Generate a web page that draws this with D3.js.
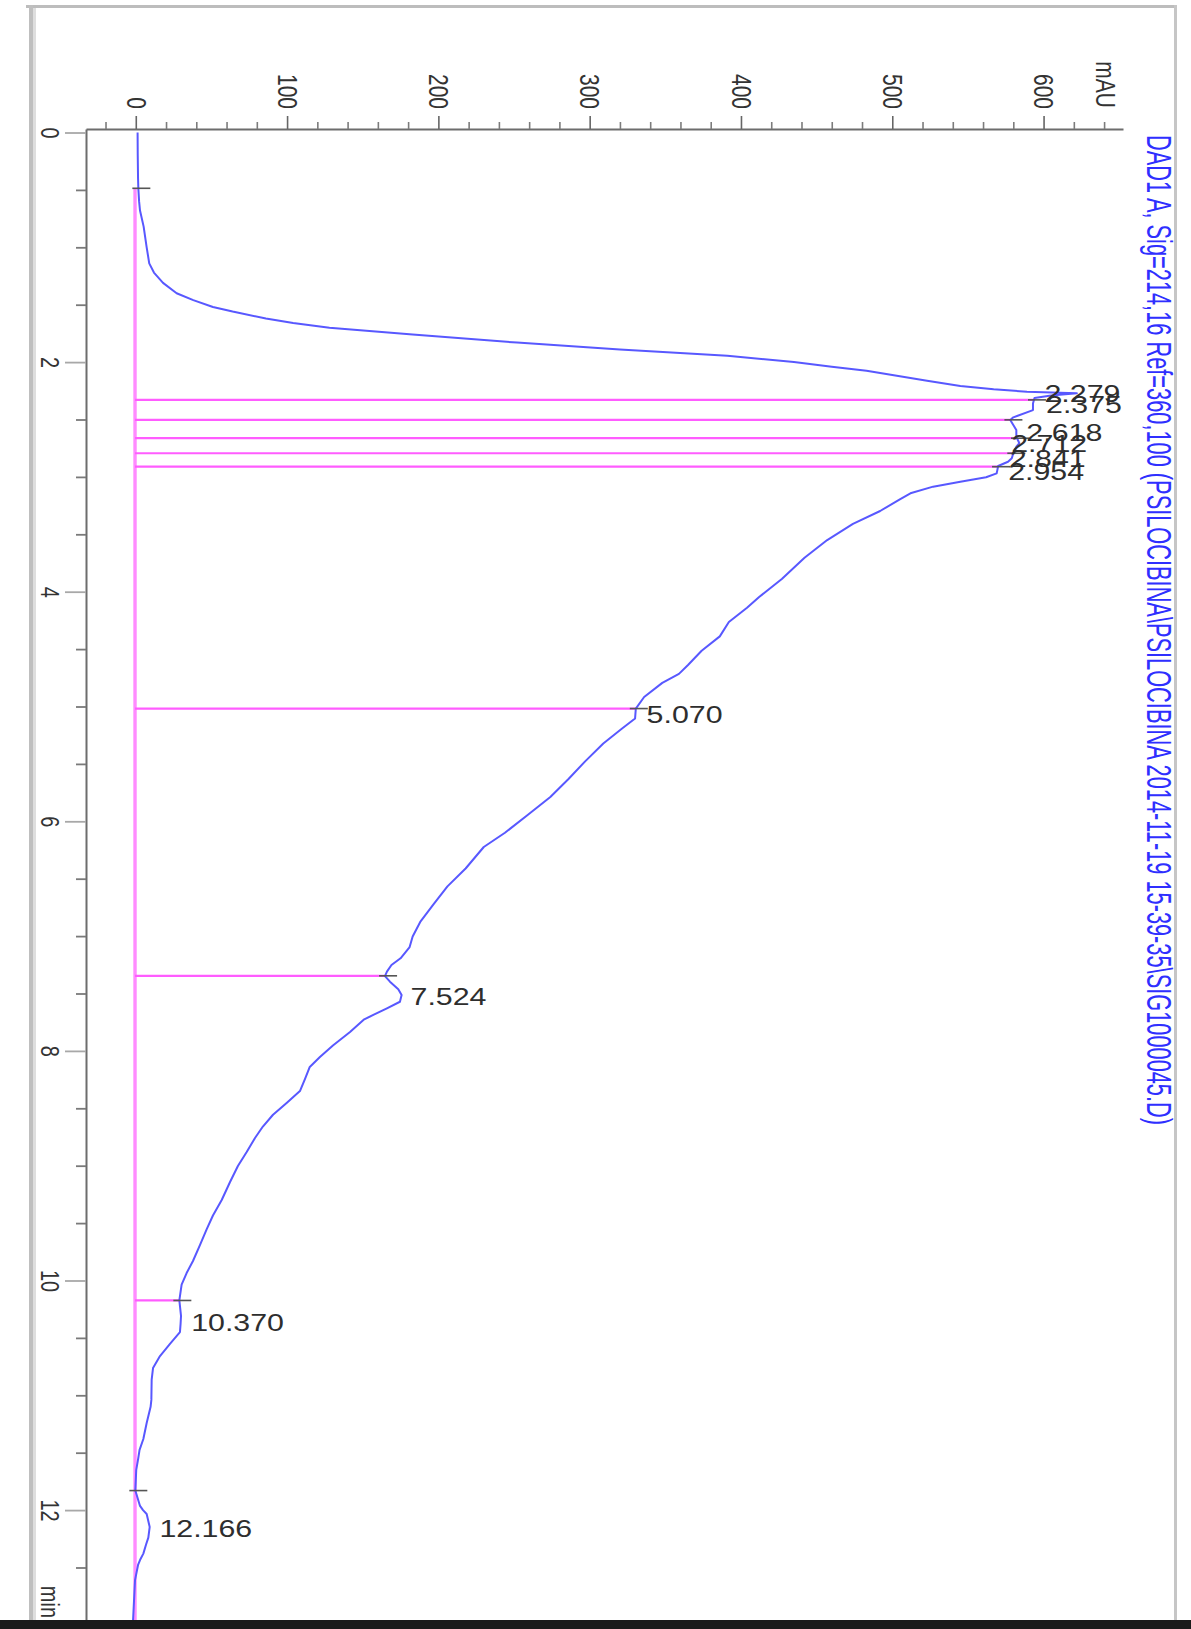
<!DOCTYPE html>
<html>
<head>
<meta charset="utf-8">
<script src="https://cdn.jsdelivr.net/npm/d3@7"></script>
<style>
  html, body { margin: 0; padding: 0; background: #ffffff; }
  svg { display: block; }
  text { font-family: "Liberation Sans", Arial, Helvetica, sans-serif; }
</style>
</head>
<body>
<svg id="chart" width="1191" height="1629"></svg>
<script>
// DAD1 A trace: retention time (min) and absorbance (mAU)
const time = [
  0.00, 0.20, 0.40, 0.49, 0.60, 0.68, 0.82, 1.00, 1.14, 1.22,
  1.31, 1.40, 1.46, 1.52, 1.56, 1.62, 1.66, 1.70, 1.76, 1.83,
  1.89, 1.945, 2.00, 2.04, 2.075, 2.112, 2.162, 2.208, 2.237, 2.258,
  2.266, 2.272, 2.290, 2.313, 2.36, 2.418, 2.481, 2.504, 2.548, 2.592,
  2.65, 2.707, 2.737, 2.766, 2.794, 2.838, 2.868, 2.905, 2.969, 3.003,
  3.042, 3.085, 3.143, 3.195, 3.297, 3.41, 3.55, 3.705, 3.89, 4.046,
  4.14, 4.264, 4.389, 4.514, 4.638, 4.716, 4.794, 4.917, 5.018, 5.105,
  5.196, 5.322, 5.478, 5.632, 5.788, 5.945, 6.10, 6.224, 6.411, 6.567,
  6.72, 6.877, 7.003, 7.095, 7.193, 7.252, 7.31, 7.348, 7.397, 7.463,
  7.513, 7.572, 7.629, 7.687, 7.725, 7.835, 7.953, 8.053, 8.14, 8.245,
  8.35, 8.454, 8.556, 8.659, 8.759, 8.881, 9.003, 9.142, 9.299, 9.434,
  9.552, 9.691, 9.83, 9.935, 10.036, 10.174, 10.309, 10.38, 10.449, 10.553,
  10.658, 10.763, 10.863, 11.04, 11.10, 11.241, 11.381, 11.476, 11.552, 11.65,
  11.83, 11.964, 12.0, 12.034, 12.147, 12.24, 12.3, 12.379, 12.435, 12.478,
  12.61, 12.96
];
const absorbance = [
  1.2, 1.3, 1.5, 1.7, 2.2, 2.8, 5.2, 7.2, 8.9, 12,
  18, 27, 38, 51, 64, 86, 104, 128, 183, 252,
  320, 391, 435, 460, 483, 500, 523, 545, 567, 589,
  611, 622, 605, 594, 593, 593, 580, 578, 580, 582,
  582, 584, 582, 581, 580, 579, 576.5, 570, 569, 562,
  545, 527, 512, 505, 492, 474, 457, 442, 427, 412,
  404, 392, 386, 374, 365, 359, 348, 336, 330.5, 330,
  321, 309, 297, 286, 274, 259, 244, 230, 218, 206,
  197, 188, 183, 181, 175, 169, 166, 164.7, 168, 173.5,
  175.7, 174.6, 166, 157, 151, 141.6, 130.3, 121.7, 115, 111.8,
  108.5, 99.7, 90.7, 84, 78.8, 73.3, 67.5, 62.3, 56.8, 51,
  46.9, 42.4, 37.8, 33.6, 30.3, 28.8, 29.9, 29.6, 29.2, 22.6,
  16, 11.4, 10.5, 10.3, 9.8, 7.2, 5, 2.5, 1.6, 0.3,
  -0.3, 2.8, 4.8, 7.2, 9.2, 8.3, 6.8, 5, 2.8, 1.5,
  -0.5, -1.8
];

// Integration: baseline level and peak boundaries (min)
const baselineLevel = -0.5;
const baselineStart = 0.486;
const boundaryTimes = [0.486, 2.329, 2.503, 2.663, 2.794, 2.911, 5.018, 7.346, 10.174, 11.83];
const dropLineTimes = [2.329, 2.503, 2.663, 2.794, 2.911, 5.018, 7.346, 10.174];

// Peak retention times and the heights their labels sit beside
const peakRT = [2.279, 2.375, 2.618, 2.712, 2.841, 2.954, 5.070, 7.524, 10.370, 12.166];
const peakHeight = [594, 595, 582, 572, 571, 570, 331, 175, 30, 9];

// Axis ticks
const mAUTickLabels = [0, 100, 200, 300, 400, 500, 600];
const timeTickLabels = [0, 2, 4, 6, 8, 10, 12];

const signalTitle = "DAD1 A, Sig=214,16 Ref=360,100 (PSILOCIBINA\\PSILOCIBINA 2014-11-19 15-39-35\\SIG1000045.D)";

// ---------------------------------------------------------------
const W = 1191, H = 1629;
const svg = d3.select("#chart");
const STRETCH = 1.32;           // glyphs are drawn wider across the page
const axisX = 86, axisY = 129;  // where the two axes meet

// time runs down the page, absorbance runs to the right
const y = d3.scaleLinear().domain([-0.03, 12.96]).range([129.06, 1620.3]);
const x = d3.scaleLinear().domain([-32.9, 652.5]).range([axisX, 1123]);
const signalAt = d3.scaleLinear().domain(time).range(absorbance);

// page frame
const frame = svg.append("g");
frame.append("line").attr("x1", 26).attr("x2", 1177).attr("y1", 6.5).attr("y2", 6.5)
  .attr("stroke", "#bdbdbd").attr("stroke-width", 3);
frame.append("line").attr("x1", 31).attr("x2", 31).attr("y1", 5).attr("y2", 1620)
  .attr("stroke", "#bfbfbf").attr("stroke-width", 4);
frame.append("line").attr("x1", 34.5).attr("x2", 34.5).attr("y1", 8).attr("y2", 1620)
  .attr("stroke", "#dedede").attr("stroke-width", 3);
frame.append("line").attr("x1", 1175.5).attr("x2", 1175.5).attr("y1", 5).attr("y2", 1620)
  .attr("stroke", "#c6c6c6").attr("stroke-width", 3);

// absorbance axis (top)
const xAxis = d3.axisTop(x)
  .tickValues(d3.range(-20, 641, 20))
  .tickSize(7).tickSizeOuter(0)
  .tickFormat(d => mAUTickLabels.includes(d) ? String(d) : "");
const gx = svg.append("g").attr("transform", `translate(0,${axisY})`).call(xAxis);
gx.select(".domain").attr("stroke", "#6d6d6d").attr("stroke-width", 2);
gx.selectAll(".tick line").attr("stroke", "#7c7c7c").attr("stroke-width", 1.6)
  .filter(d => d % 100 === 0).attr("y2", -13).attr("stroke", "#666");
gx.selectAll(".tick text")
  .attr("x", 0).attr("y", 0).attr("dy", "0.35em")
  .attr("text-anchor", "end")
  .attr("transform", `translate(0,-20) scale(${STRETCH},1) rotate(90)`)
  .attr("font-size", 21).attr("fill", "#333")
  .style("font-family", '"Liberation Sans", Arial, sans-serif');
gx.append("text")
  .attr("transform", `translate(${x(641)},-21) scale(${STRETCH},1) rotate(90)`)
  .attr("dy", "0.35em").attr("text-anchor", "end")
  .attr("font-size", 21).attr("fill", "#333").text("mAU");

// time axis (left)
const yAxis = d3.axisLeft(y)
  .tickValues(d3.range(0, 12.51, 0.5))
  .tickSize(10).tickSizeOuter(0)
  .tickFormat(d => timeTickLabels.includes(d) ? String(d) : "");
const gy = svg.append("g").attr("transform", `translate(${axisX},0)`).call(yAxis);
gy.select(".domain").attr("stroke", "#6d6d6d").attr("stroke-width", 2);
gy.selectAll(".tick line").attr("stroke", "#7a7a7a").attr("stroke-width", 1.8)
  .filter(d => timeTickLabels.includes(d)).attr("x2", -21).attr("stroke", "#a8a8a8");
gy.selectAll(".tick text")
  .attr("x", 0).attr("y", 0).attr("dy", "0.35em")
  .attr("text-anchor", "middle")
  .attr("transform", `translate(-36,0) scale(${STRETCH},1) rotate(90)`)
  .attr("font-size", 20).attr("fill", "#333")
  .style("font-family", '"Liberation Sans", Arial, sans-serif');
gy.append("text")
  .attr("transform", `translate(-36,${y(12.8)}) scale(${STRETCH},1) rotate(90)`)
  .attr("dy", "0.35em").attr("text-anchor", "middle")
  .attr("font-size", 20).attr("fill", "#333").text("min");

// integration baseline and drop lines
svg.append("line")
  .attr("x1", x(baselineLevel)).attr("x2", x(baselineLevel))
  .attr("y1", y(baselineStart)).attr("y2", y.range()[1])
  .attr("stroke", "#ff8cff").attr("stroke-width", 3.4);
svg.append("g").selectAll("line").data(dropLineTimes).join("line")
  .attr("x1", x(baselineLevel)).attr("x2", t => x(signalAt(t)))
  .attr("y1", t => y(t)).attr("y2", t => y(t))
  .attr("stroke", "#ff5cff").attr("stroke-width", 2.2);

// signal trace
svg.append("path")
  .datum(time.map((t, i) => [t, absorbance[i]]))
  .attr("fill", "none")
  .attr("stroke", "#5858ff")
  .attr("stroke-width", 2)
  .attr("stroke-linejoin", "round")
  .attr("d", d3.line().x(d => x(d[1])).y(d => y(d[0])));

// peak start / stop tick marks
svg.append("g").selectAll("line").data(boundaryTimes).join("line")
  .attr("x1", t => x(signalAt(t)) - 6).attr("x2", t => x(signalAt(t)) + 12)
  .attr("y1", t => y(t)).attr("y2", t => y(t))
  .attr("stroke", "#555").attr("stroke-width", 1.6);

// retention time labels
svg.append("g").selectAll("text").data(peakRT).join("text")
  .attr("transform", (rt, i) => `translate(${x(peakHeight[i]) + 10},${y(rt)}) scale(${STRETCH},1)`)
  .attr("dy", "0.36em")
  .attr("font-size", 23)
  .attr("fill", "#2e2e2e")
  .text(rt => rt.toFixed(3));

// signal description (condensed face)
svg.append("text")
  .attr("transform", `translate(1147,${y(0) + 2.5}) scale(${STRETCH},1) rotate(90)`)
  .style("font-family", '"Liberation Sans Narrow", "Liberation Sans", Arial, sans-serif')
  .attr("font-size", 26)
  .attr("fill", "#2f2fff")
  .attr("textLength", 990)
  .attr("lengthAdjust", "spacingAndGlyphs")
  .text(signalTitle);

// dark strip along the bottom edge
svg.append("rect").attr("x", 0).attr("y", 1620).attr("width", W).attr("height", H - 1620)
  .attr("fill", "#1b1b1b");
</script>
</body>
</html>
